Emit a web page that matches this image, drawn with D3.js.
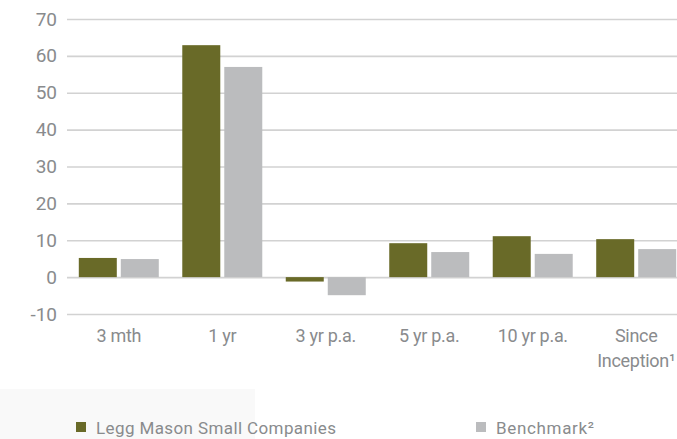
<!DOCTYPE html>
<html>
<head>
<meta charset="utf-8">
<script src="https://cdn.jsdelivr.net/npm/d3@7"></script>
<style>
  body { margin: 0; background: #fff; }
  text { font-family: "Roboto", "Liberation Sans", sans-serif; fill: #898b8d; }
</style>
</head>
<body>
<svg id="chart" width="677" height="439"></svg>
<script>
var categories = ["3 mth", "1 yr", "3 yr p.a.", "5 yr p.a.", "10 yr p.a.", "Since\nInception\u00b9"];
var fund = [5.2, 62.9, -1.2, 9.2, 11.1, 10.3];
var bench = [4.9, 57.0, -4.9, 6.8, 6.3, 7.6];
var yTicks = [-10, 0, 10, 20, 30, 40, 50, 60, 70];
var seriesNames = ["Legg Mason Small Companies", "Benchmark\u00b2"];
var colors = ["#696a28", "#bbbcbe"];

var margin = {top: 19, left: 67, bottom: 125};
var width = 677, height = 439;
var svg = d3.select("#chart");

// faint panel behind the legend
svg.append("rect")
  .attr("x", 0).attr("y", 389)
  .attr("width", 255).attr("height", 50)
  .attr("fill", "#f9f9f9");

var data = categories.map(function(c, i) { return {cat: c, values: [fund[i], bench[i]]}; });

var x0 = d3.scaleBand()
  .domain(categories)
  .range([margin.left, margin.left + 6 * 103.5])
  .paddingInner(0.227)
  .paddingOuter(0.114);

var x1 = d3.scaleBand()
  .domain([0, 1])
  .range([0, x0.bandwidth()])
  .paddingInner(0.095);

var y = d3.scaleLinear()
  .domain([-10, 70])
  .range([height - margin.bottom, margin.top]);

// gridlines + y labels
svg.append("g")
  .attr("transform", "translate(" + margin.left + ",0)")
  .call(d3.axisLeft(y).tickValues(yTicks).tickFormat(d => String(d))
      .tickSize(-(width - margin.left)).tickPadding(10))
  .call(g => g.select(".domain").remove())
  .call(g => g.selectAll(".tick line").attr("stroke", "#d2d2d2").attr("stroke-width", 1.6))
  .call(g => g.selectAll(".tick text")
      .attr("font-size", 19)
      .attr("fill", "#898b8d")
      .style("font-family", '"Roboto", "Liberation Sans", sans-serif'));

svg.append("g")
  .selectAll("g").data(data).enter().append("g")
    .attr("transform", d => "translate(" + x0(d.cat) + ",0)")
  .selectAll("rect").data(d => d.values).enter().append("rect")
    .attr("x", (d, i) => x1(i))
    .attr("y", d => y(Math.max(0, d)))
    .attr("height", d => Math.abs(y(d) - y(0)))
    .attr("width", x1.bandwidth())
    .attr("fill", (d, i) => colors[i]);

// category labels
var xAxis = svg.append("g")
  .attr("transform", "translate(0," + y(-10) + ")")
  .call(d3.axisBottom(x0).tickSize(0).tickFormat(""))
  .call(g => g.select(".domain").remove());

xAxis.selectAll(".tick text").remove();
xAxis.selectAll(".tick").append("text")
  .attr("text-anchor", "middle")
  .attr("font-size", 18)
  .attr("letter-spacing", -0.3)
  .selectAll("tspan").data(d => d.split("\n")).enter().append("tspan")
    .attr("x", 0)
    .attr("y", (d, i) => 28 + i * 25)
    .text(d => d);

// legend
var legendX = [76, 476];
var legendW = [240, 98];
var legend = svg.append("g").selectAll("g").data(seriesNames).enter().append("g")
  .attr("transform", (d, i) => "translate(" + legendX[i] + ",422)");

legend.append("rect")
  .attr("width", 10).attr("height", 10)
  .attr("fill", (d, i) => colors[i]);

legend.append("text")
  .attr("x", 20)
  .attr("y", 12)
  .attr("font-size", 17)
  .attr("textLength", (d, i) => legendW[i])
  .attr("lengthAdjust", "spacing")
  .text(d => d);
</script>
</body>
</html>
